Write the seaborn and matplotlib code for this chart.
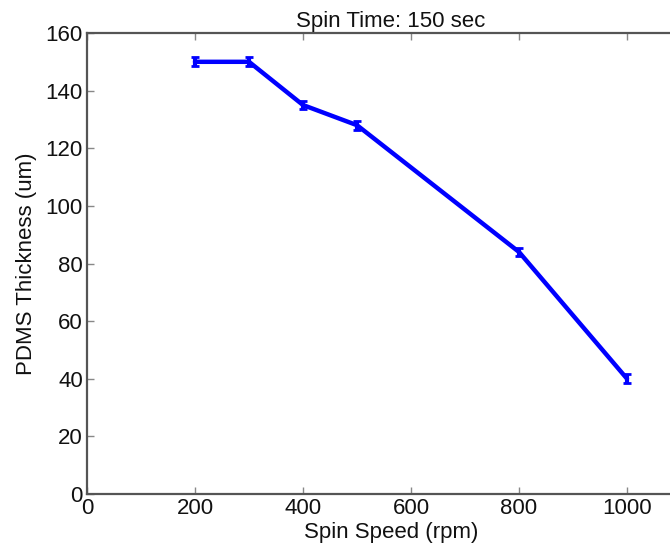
import matplotlib
matplotlib.use("Agg")
import matplotlib.pyplot as plt
import seaborn as sns
import pandas as pd

speed = [200, 300, 400, 500, 800, 1000]
thickness = [150, 150, 135, 128, 84, 40]
err = [1.5, 1.5, 1.5, 1.5, 1.5, 1.5]
xticks = [0, 200, 400, 600, 800, 1000]
yticks = [0, 20, 40, 60, 80, 100, 120, 140, 160]

sns.set_style("white")
plt.rcParams['font.family'] = ['Liberation Sans', 'DejaVu Sans']

df = pd.DataFrame({"speed": speed, "thickness": thickness})

fig = plt.figure(figsize=(6.7, 5.5), dpi=100)
ax = fig.add_axes([87 / 670, 56 / 550, 607.5 / 670, 461 / 550])
sns.lineplot(data=df, x="speed", y="thickness", ax=ax, color="#0000ff", linewidth=3.2)
ax.errorbar(speed, thickness, yerr=err, fmt="none", ecolor="#0000ff", elinewidth=3, capsize=3, capthick=2)

ax.set_xlim(0, 1125)
ax.set_ylim(0, 160)
ax.set_xticks(xticks)
ax.set_yticks(yticks)
ax.tick_params(axis="both", which="both", direction="in", length=5, width=1, color="#888888",
               labelsize=16, labelcolor="#111111", top=True, bottom=True, left=True, right=False, pad=3)
for s in ax.spines.values():
    s.set_color("#555555")
    s.set_linewidth(1.6)
ax.spines["right"].set_visible(False)
ax.set_xlabel("Spin Speed (rpm)", fontsize=16, labelpad=2, color="#111111")
ax.set_ylabel("PDMS Thickness (um)", fontsize=16, labelpad=6, color="#111111")
ax.set_title("Spin Time: 150 sec", fontsize=16, pad=4, color="#111111")

fig.savefig("out.png", dpi=100)
